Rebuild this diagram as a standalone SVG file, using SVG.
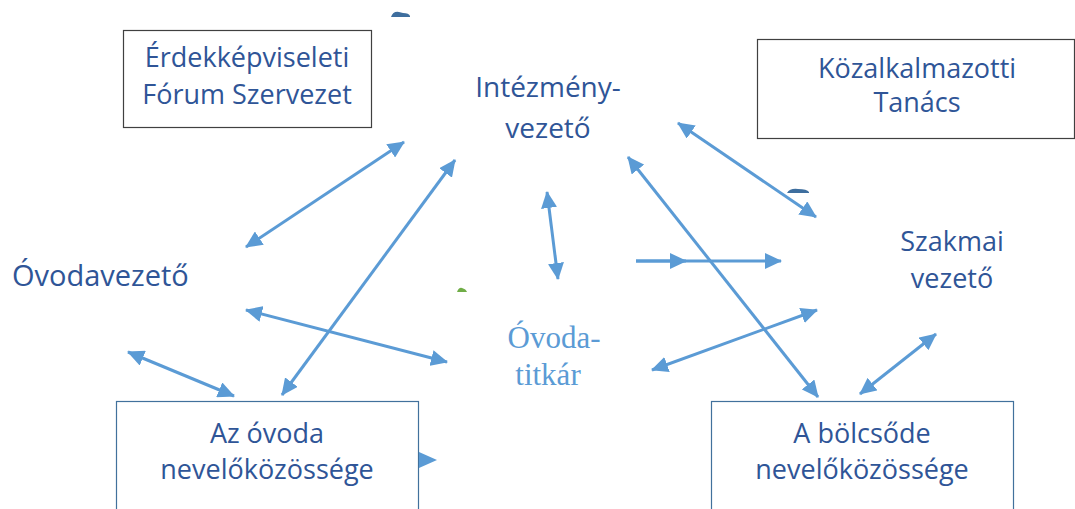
<svg xmlns="http://www.w3.org/2000/svg" width="1075" height="509" viewBox="0 0 1075 509">
<defs>
<marker id="ah" markerUnits="userSpaceOnUse" markerWidth="18" markerHeight="16" refX="16" refY="8" orient="auto-start-reverse" viewBox="0 0 18 16">
<path d="M0,0 L17,8 L0,16 Z" fill="#5B9BD5"/>
</marker>
</defs>
<style>
.t{font-family:"Open Sans","Noto Sans",sans-serif;font-size:27px;fill:#2F5597;text-anchor:middle}
.s{font-family:"Liberation Serif",serif;font-size:31px;fill:#5B9BD5;text-anchor:middle}
.bk{fill:#fff;stroke:#404040;stroke-width:1.2}
.bb{fill:#fff;stroke:#41719C;stroke-width:1.2}
.c{stroke:#5B9BD5;stroke-width:3;fill:none}
.d{marker-start:url(#ah);marker-end:url(#ah)}
.e{marker-end:url(#ah)}
</style>
<rect width="1075" height="509" fill="#fff"/>
<g id="erdek">
<rect class="bk" x="123.5" y="30.5" width="248" height="97"/>
<text class="t" x="247" y="67">Érdekképviseleti</text>
<text class="t" x="247" y="104">Fórum Szervezet</text>
</g>
<g id="kozalk">
<rect class="bk" x="757.5" y="39.5" width="317" height="99"/>
<text class="t" x="917" y="78">Közalkalmazotti</text>
<text class="t" x="917" y="112">Tanács</text>
</g>
<g id="intezmeny">
<text class="t" x="548" y="97" style="font-size:28px">Intézmény-</text>
<text class="t" x="548" y="138" style="font-size:28px">vezető</text>
</g>
<g id="szakmai">
<text class="t" x="952" y="251">Szakmai</text>
<text class="t" x="952" y="288">vezető</text>
</g>
<g id="ovodavezeto">
<text class="t" x="12" y="286" style="text-anchor:start;font-size:29px">Óvodavezető</text>
</g>
<g id="titkar">
<text class="s" x="554" y="348">Óvoda-</text>
<text class="s" x="548" y="385">titkár</text>
</g>
<g id="ovoda">
<rect class="bb" x="116.5" y="401.5" width="302" height="110"/>
<text class="t" x="267" y="443">Az óvoda</text>
<text class="t" x="267" y="479">nevelőközössége</text>
</g>
<g id="bolcsode">
<rect class="bb" x="711.5" y="401.5" width="302" height="110"/>
<text class="t" x="862" y="443">A bölcsőde</text>
<text class="t" x="862" y="479">nevelőközössége</text>
</g>
<g id="connectors">
<line class="c d" x1="404" y1="142" x2="246" y2="247"/>
<line class="c d" x1="455" y1="160" x2="282" y2="395"/>
<line class="c d" x1="547" y1="192" x2="558" y2="279"/>
<line class="c e" x1="636" y1="261" x2="686" y2="261"/>
<line class="c e" x1="636" y1="261" x2="781" y2="261"/>
<line class="c d" x1="678" y1="123" x2="816" y2="217"/>
<line class="c d" x1="628" y1="157" x2="818" y2="397"/>
<line class="c d" x1="246" y1="310" x2="447" y2="362"/>
<line class="c d" x1="817" y1="310" x2="652" y2="370"/>
<line class="c d" x1="936" y1="334" x2="860" y2="394"/>
<line class="c d" x1="128" y1="352" x2="234" y2="396"/>
<path d="M419,452 L437,460 L419,468 Z" fill="#5B9BD5"/>
</g>
<g id="marks">
<path d="M391,17 Q393,11 399,12 L403,13 Q409,13 410,16 L410,17 Z" fill="#3E6E9E"/>
<path d="M787,193 Q790,188 798,189 Q807,189 809,192 L809,193 Z" fill="#3E6E9E"/>
<path d="M457,292 Q459,287 462,288 Q466,289 467,292 Z" fill="#70AD47"/>
</g>
</svg>
